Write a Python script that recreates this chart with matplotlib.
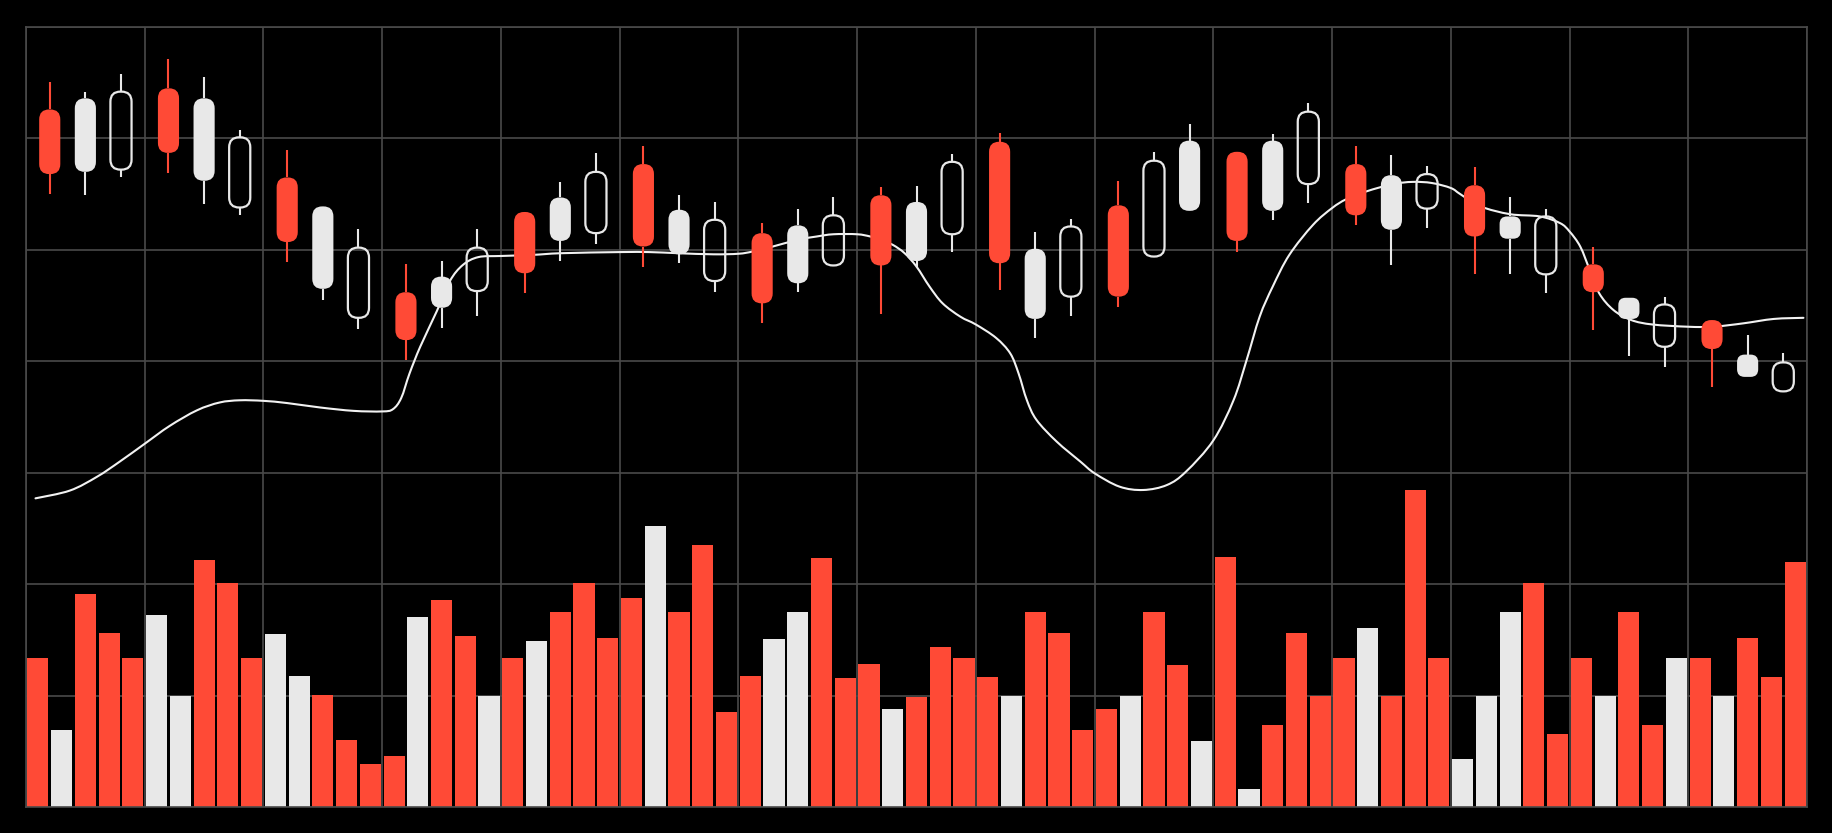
import numpy as np
import matplotlib.pyplot as plt
from matplotlib.patches import FancyBboxPatch, PathPatch
from matplotlib.path import Path


# candles: day, open, high, low, close, kind
days = [2, 5, 8, 12, 15, 18, 22, 25, 28, 32, 35, 38, 42, 45, 48,
        52, 55, 58, 62, 65, 68, 72, 75, 78, 82, 85, 88, 92, 95, 98,
        102, 105, 108, 112, 115, 118, 122, 125, 128, 132, 135, 138, 142, 145, 148]
opens = [62.6, 57.0, 57.2, 64.5, 56.2, 53.8, 56.5, 46.5, 43.9, 46.2, 44.8, 46.3, 53.4, 50.8, 51.5,
         57.7, 49.6, 47.2, 51.5, 47.0, 48.6, 54.9, 49.0, 51.4, 59.7, 43.8, 45.8, 54.0, 49.4, 53.5,
         58.8, 53.5, 55.9, 57.7, 51.8, 53.7, 55.8, 51.0, 47.8, 48.7, 43.8, 41.3, 43.7, 38.6, 37.3]
highs = [65.1, 64.2, 65.8, 67.1, 65.5, 60.8, 59.0, 53.9, 51.9, 48.7, 49.0, 51.9, 53.4, 56.1, 58.7,
         59.3, 54.9, 54.3, 52.4, 53.7, 54.7, 55.6, 55.7, 58.6, 60.5, 51.6, 52.8, 56.2, 58.8, 61.3,
         58.8, 60.4, 63.2, 59.3, 58.5, 57.5, 57.4, 54.7, 53.7, 50.3, 45.7, 45.8, 43.7, 42.4, 40.7]
lows = [55.0, 54.9, 56.5, 56.9, 54.1, 53.1, 48.9, 45.5, 42.9, 40.1, 43.0, 44.1, 46.1, 49.0, 50.5,
        48.5, 48.8, 46.2, 43.4, 46.2, 48.6, 44.2, 48.4, 49.8, 46.4, 42.1, 44.1, 44.9, 49.4, 53.5,
        49.8, 52.7, 54.2, 52.2, 48.6, 52.0, 47.8, 47.8, 46.1, 42.8, 40.5, 39.5, 37.7, 38.6, 37.3]
closes = [56.8, 63.6, 64.2, 58.7, 63.6, 60.1, 50.7, 53.9, 50.2, 41.9, 47.6, 50.2, 47.9, 54.7, 57.0,
          50.3, 53.6, 52.7, 45.2, 52.2, 53.1, 48.6, 54.3, 57.9, 48.8, 50.1, 52.1, 45.8, 58.0, 59.8,
          50.8, 59.8, 62.4, 53.1, 56.7, 56.8, 51.2, 53.0, 53.0, 46.2, 45.7, 45.1, 41.1, 40.6, 39.9]
kinds = ["down", "up", "hollow"] * 9 + ["down", "hollow", "up"] + ["down", "up", "hollow"] * 5

# volume, one bar every 2 days
volume = [133.5, 69.2, 191.0, 156.6, 133.5, 172.1, 100.0, 221.5, 200.8, 133.5,
          155.1, 117.4, 100.3, 59.9, 38.7, 46.2, 170.9, 185.9, 153.6, 99.4,
          133.5, 149.4, 174.8, 200.8, 152.1, 188.0, 252.0, 174.8, 234.7, 85.7,
          117.7, 150.6, 174.8, 223.3, 116.2, 128.1, 88.0, 99.1, 143.7, 133.5,
          116.8, 100.0, 174.8, 156.0, 68.9, 87.7, 100.0, 174.8, 127.2, 59.6,
          224.5, 16.5, 73.7, 156.0, 100.0, 133.5, 161.0, 100.0, 284.6, 133.5,
          42.9, 100.0, 174.8, 200.8, 65.6, 133.5, 100.0, 174.8, 73.7, 133.5,
          133.5, 100.0, 151.8, 116.8, 219.7]
vol_kind = list("rwrrrwwrrrwwrrrrwrrwrwrrrrwrrrrwwrrrwrrrrwrrrrwrrwrwrrrrwrrrwwwrrrwrrwrwrrr")

# smooth average line
ma_days = [0.8, 3.7, 6.0, 7.9, 10.0, 12.1, 14.4, 16.3, 18.0, 20.0, 22.0, 24.8, 27.6, 30.0,
           30.9, 31.6, 32.3, 33.2, 34.6, 35.7, 36.8, 38.1, 40.0, 42.7, 45.1, 50.0, 52.5,
           54.9, 57.9, 60.0, 61.2, 62.9, 65.0, 66.6, 68.0, 70.0, 71.1, 72.0, 73.0, 74.0,
           75.0, 76.1, 77.2, 78.7, 80.0, 81.7, 82.9, 83.6, 84.3, 85.1, 86.8, 88.8, 90.0,
           92.1, 94.1, 96.1, 97.7, 100.0, 101.7, 102.8, 103.9, 105.0, 106.4, 108.4, 110.0,
           111.2, 112.9, 115.1, 116.8, 118.4, 120.0, 120.8, 122.5, 125.0, 127.5, 129.2,
           130.0, 130.9, 131.7, 132.5, 133.7, 135.2, 137.0, 140.0, 142.1, 144.6, 147.2, 149.7]
ma_vals = [27.7, 28.4, 29.65, 31.0, 32.6, 34.2, 35.6, 36.3, 36.5, 36.45, 36.25, 35.85, 35.55, 35.5,
           35.7, 36.7, 38.9, 41.3, 44.5, 47.2, 48.65, 49.35, 49.45, 49.55, 49.7, 49.8, 49.8,
           49.7, 49.6, 49.65, 49.85, 50.3, 50.9, 51.2, 51.4, 51.4, 51.2, 50.9, 50.45, 49.7,
           48.5, 46.7, 45.2, 44.0, 43.3, 42.1, 40.7, 38.9, 36.5, 34.75, 32.8, 31.0, 29.95,
           28.75, 28.45, 28.9, 30.1, 32.9, 36.5, 40.1, 44.0, 46.7, 49.55, 52.25, 53.75,
           54.55, 55.25, 55.9, 56.1, 56.0, 55.55, 55.0, 53.9, 53.2, 53.0, 52.4,
           51.65, 50.3, 48.2, 46.1, 44.6, 43.7, 43.3, 43.1, 43.1, 43.4, 43.8, 43.9]

RED = "#ff4a36"
LIGHT = "#e8e8e8"
GRID = "#4a4a4a"

W, H = 1833, 833
fig = plt.figure(figsize=(W / 100, H / 100), dpi=100, facecolor="black")
ax = fig.add_axes([26 / W, 26 / H, 1781 / W, 780 / H])
ax.set_facecolor("black")
ax.set_xlim(0, 150)
ax.set_ylim(0, 700)
ax.set_xticks(np.arange(0, 151, 10))
ax.set_yticks(np.arange(0, 701, 100))
ax.tick_params(length=0, labelbottom=False, labelleft=False)
ax.grid(True, color=GRID, lw=1.2)
ax.set_axisbelow(True)
for s in ax.spines.values():
    s.set_color(GRID)
    s.set_linewidth(1.2)

vol_x = np.arange(1, 150, 2)
ax.bar(vol_x, volume, width=1.78,
       color=[RED if k == "r" else LIGHT for k in vol_kind], linewidth=0)

axp = ax.twinx()
axp.set_ylim(0, 70)
axp.set_xlim(0, 150)
axp.set_axis_off()

# draw the average as a smooth curve through the read points (Catmull-Rom as Bezier)
pts = np.column_stack([ma_days, ma_vals])
padded = np.vstack([pts[0], pts, pts[-1]])
verts = [tuple(pts[0])]
codes = [Path.MOVETO]
for i in range(1, len(padded) - 2):
    p0, p1, p2, p3 = padded[i - 1], padded[i], padded[i + 1], padded[i + 2]
    verts += [tuple(p1 + (p2 - p0) / 6), tuple(p2 - (p3 - p1) / 6), tuple(p2)]
    codes += [Path.CURVE4] * 3
axp.add_patch(PathPatch(Path(verts, codes), facecolor="none", edgecolor="#f2f2f2",
                        lw=1.5, zorder=1, capstyle="round"))

# rounded candle bodies, corners circular in pixels
px_x = 1781 / 150
px_y = 780 / 70
aspect = px_x / px_y
body_w = 1.78

for d, o, h, l, c, k in zip(days, opens, highs, lows, closes, kinds):
    top, bot = max(o, c), min(o, c)
    col = RED if k == "down" else LIGHT
    axp.vlines(d, top, h, color=col, lw=1.5, zorder=2)
    axp.vlines(d, l, bot, color=col, lw=1.5, zorder=2)
    if k == "hollow":
        fc, ec, lw = "none", LIGHT, 1.6
    else:
        fc, ec, lw = col, "none", 0
    r_px = min(10, 0.34 * (top - bot) * px_y)
    body = FancyBboxPatch((d - body_w / 2, bot), body_w, top - bot,
                          boxstyle=f"round,pad=0,rounding_size={r_px / px_x}",
                          mutation_aspect=aspect, facecolor=fc, edgecolor=ec,
                          lw=lw, zorder=3)
    axp.add_patch(body)

fig.savefig("out.png", dpi=100, facecolor="black")
